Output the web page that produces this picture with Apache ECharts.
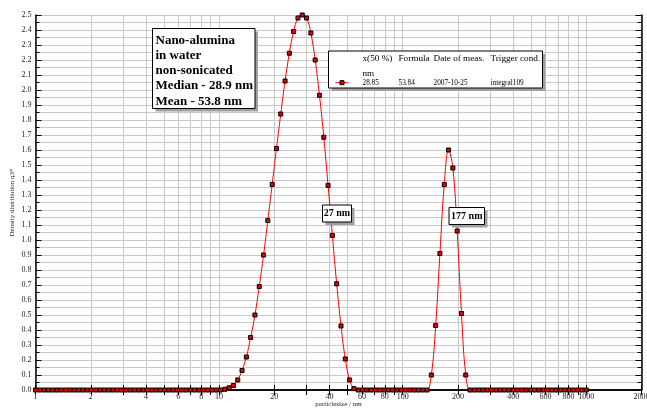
<!DOCTYPE html>
<html><head><meta charset="utf-8">
<script src="https://cdn.jsdelivr.net/npm/echarts@6/dist/echarts.min.js"></script>
<style>html,body{margin:0;padding:0;background:#fff}#c{width:647px;height:408px}</style>
</head><body><div id="c"></div>
<script>
// particle size classes (nm)
const sizes = [1.000,1.055,1.114,1.176,1.241,1.310,1.382,1.459,1.540,1.625,1.715,1.811,1.911,2.017,2.129,2.247,2.371,2.503,2.642,2.788,2.943,3.106,3.278,3.460,3.652,3.854,4.068,4.294,4.532,4.783,5.048,5.328,5.623,5.935,6.264,6.612,6.978,7.365,7.774,8.205,8.660,9.140,9.647,10.18,10.75,11.34,11.97,12.64,13.34,14.08,14.86,15.68,16.55,17.47,18.43,19.46,20.54,21.67,22.88,24.14,25.48,26.90,28.39,29.96,31.62,33.38,35.23,37.18,39.24,41.42,43.71,46.14,48.70,51.40,54.25,57.26,60.43,63.78,67.32,71.05,74.99,79.15,83.54,88.17,93.06,98.22,103.7,109.4,115.5,121.9,128.6,135.8,143.3,151.3,159.6,168.5,177.8,187.7,198.1,209.1,220.7,232.9,245.8,259.5,273.8,289.0,305.1,322.0,339.8,358.7,378.5,399.5,421.7,445.1,469.8,495.8,523.3,552.3,582.9,615.3,649.4,685.4,723.4,763.5,805.8,850.5,897.7,947.5,1000];
// density distribution q3*
const density = [0,0,0,0,0,0,0,0,0,0,0,0,0,0,0,0,0,0,0,0,0,0,0,0,0,0,0,0,0,0,0,0,0,0,0,0,0,0,0,0,0,0,0,0,
  0.005,0.015,0.03,0.067,0.13,0.22,0.35,0.50,0.69,0.90,1.13,1.37,1.61,1.84,2.06,2.245,2.39,2.48,2.50,2.48,2.38,2.20,1.965,1.685,1.364,1.03,0.708,0.427,0.207,0.067,0.009,
  0,0,0,0,0,0,0,0,0,0,0,0,0,0,0,0,0,
  0.10,0.43,0.91,1.37,1.60,1.48,1.06,0.51,0.10,
  0,0,0,0,0,0,0,0,0,0,0,0,0,0,0,0,0,0,0,0,0,0,0,0,0,0,0,0];
const xTickValues = [1,2,3,4,5,6,7,8,9,10,20,30,40,50,60,70,80,90,100,200,300,400,500,600,700,800,900,1000,2000];
const xLabelValues = [1,2,4,6,8,10,20,40,60,80,100,200,400,600,800,1000,2000];
const legendHeader = ['x(50 %)','Formula','Date of meas.','Trigger cond.'];
const legendRow = ['28.85','53.84','2007-10-25','integral109'];
const infoLines = ['Nano-alumina','in water','non-sonicated','Median - 28.9 nm','Mean - 53.8 nm'];
const peakLabels = ['27 nm','177 nm'];

const SERIF = '"Liberation Serif","Times New Roman",serif';
const chart = echarts.init(document.getElementById('c'), null, {renderer:'canvas'});

const xCommon = {
  type:'log', logBase:10, min:1, max:2000,
  axisLine:{show:true, lineStyle:{color:'#000', width:1.5}},
  axisTick:{show:true, inside:true, length:5, customValues:xTickValues, lineStyle:{color:'#000', width:1}},
  minorTick:{show:false}
};
const yCommon = {
  type:'value', min:0, max:2.5, interval:0.1,
  axisLine:{show:true, lineStyle:{color:'#000', width:1.5}},
  axisTick:{show:true, inside:true, length:6, lineStyle:{color:'#000', width:1}},
  minorTick:{show:true, splitNumber:2, length:4, lineStyle:{color:'#000', width:1}}
};

const ZB = 100;
function boxGroup(x, y, w, h, children){
  return {type:'group', x:x, y:y, children:[
    {type:'rect', z:ZB, shape:{x:3, y:3, width:w, height:h}, style:{fill:'#a0a0a0'}},
    {type:'rect', z:ZB+1, shape:{x:0, y:0, width:w, height:h}, style:{fill:'#fff', stroke:'#000', lineWidth:1}}
  ].concat(children.map(c=>Object.assign({z:ZB+2}, c)))};
}

const infoTexts = infoLines.map((t,i)=>({type:'text', x:3, y:12 + i*15.2,
  style:{text:t, font:'bold 13px '+SERIF, fill:'#000', textVerticalAlign:'middle'}}));

const headerX = [34, 70, 105, 162];
const legendChildren = [
  {type:'line', shape:{x1:7, y1:31.7, x2:20, y2:31.7}, style:{stroke:'#ff0000', lineWidth:1}},
  {type:'rect', shape:{x:11.5, y:29.7, width:4, height:4}, style:{fill:'#e00000', stroke:'#000', lineWidth:1}}
].concat(legendHeader.map((t,i)=>({type:'text', x:headerX[i], y:7.5,
  style:{text:t, font:'9.2px '+SERIF, fill:'#000', textVerticalAlign:'middle'}})))
 .concat([{type:'text', x:headerX[0], y:22.5, style:{text:'nm', font:'9.2px '+SERIF, fill:'#000', textVerticalAlign:'middle'}}])
 .concat(legendRow.map((t,i)=>({type:'text', x:headerX[i], y:31.7,
  style:{text:t, font:'7.3px '+SERIF, fill:'#000', textVerticalAlign:'middle'}})));

const option = {
  animation:false,
  backgroundColor:'#fff',
  grid:{left:35.5, right:5.5, top:15, bottom:18, containLabel:false, outerBoundsMode:'none'},
  xAxis:[
    Object.assign({}, xCommon, {
      position:'bottom',
      axisLabel:{show:true, customValues:xLabelValues, fontSize:8, fontFamily:SERIF, color:'#222', margin:3, formatter:v=>String(Math.round(v))},
      splitLine:{show:true, lineStyle:{color:'#c8c8c8', width:1}},
      name:'particlesize / nm', nameLocation:'middle', nameGap:11, nameMoveOverlap:false,
      nameTextStyle:{fontSize:7, fontFamily:SERIF, color:'#222'}
    }),
    Object.assign({}, xCommon, {
      position:'top', axisLabel:{show:false}, splitLine:{show:false}
    })
  ],
  yAxis:[
    Object.assign({}, yCommon, {
      position:'left',
      axisLabel:{show:true, fontSize:8, fontFamily:SERIF, color:'#222', margin:4, formatter:v=>v.toFixed(1)},
      splitLine:{show:true, lineStyle:{color:'#c8c8c8', width:1}},
      minorSplitLine:{show:true, lineStyle:{color:'#c8c8c8', width:1}},
      name:'Density distribution q3*', nameLocation:'middle', nameGap:20, nameMoveOverlap:false,
      nameTextStyle:{fontSize:7, fontFamily:SERIF, color:'#222'}
    }),
    Object.assign({}, yCommon, {
      position:'right', axisLabel:{show:false}, splitLine:{show:false}, minorSplitLine:{show:false}
    })
  ],
  series:[{
    type:'line', xAxisIndex:0, yAxisIndex:0,
    data:sizes.map((s,i)=>[s, density[i]]),
    smooth:0.4, clip:false,
    symbol:'rect', symbolSize:4, showAllSymbol:true,
    lineStyle:{color:'#ff0000', width:1},
    itemStyle:{color:'#e00000', borderColor:'#000', borderWidth:1},
    z:5
  }],
  graphic:[
    boxGroup(152.5, 28.5, 102.5, 80, infoTexts),
    boxGroup(328.5, 51, 214, 37, legendChildren),
    boxGroup(322.5, 205, 29, 17, [{type:'text', x:14.5, y:8.8, style:{text:peakLabels[0], font:'bold 10px '+SERIF, fill:'#000', textAlign:'center', textVerticalAlign:'middle'}}]),
    boxGroup(449, 207.5, 35.5, 17, [{type:'text', x:17.8, y:8.8, style:{text:peakLabels[1], font:'bold 10px '+SERIF, fill:'#000', textAlign:'center', textVerticalAlign:'middle'}}])
  ]
};
chart.setOption(option);
</script>
</body></html>
